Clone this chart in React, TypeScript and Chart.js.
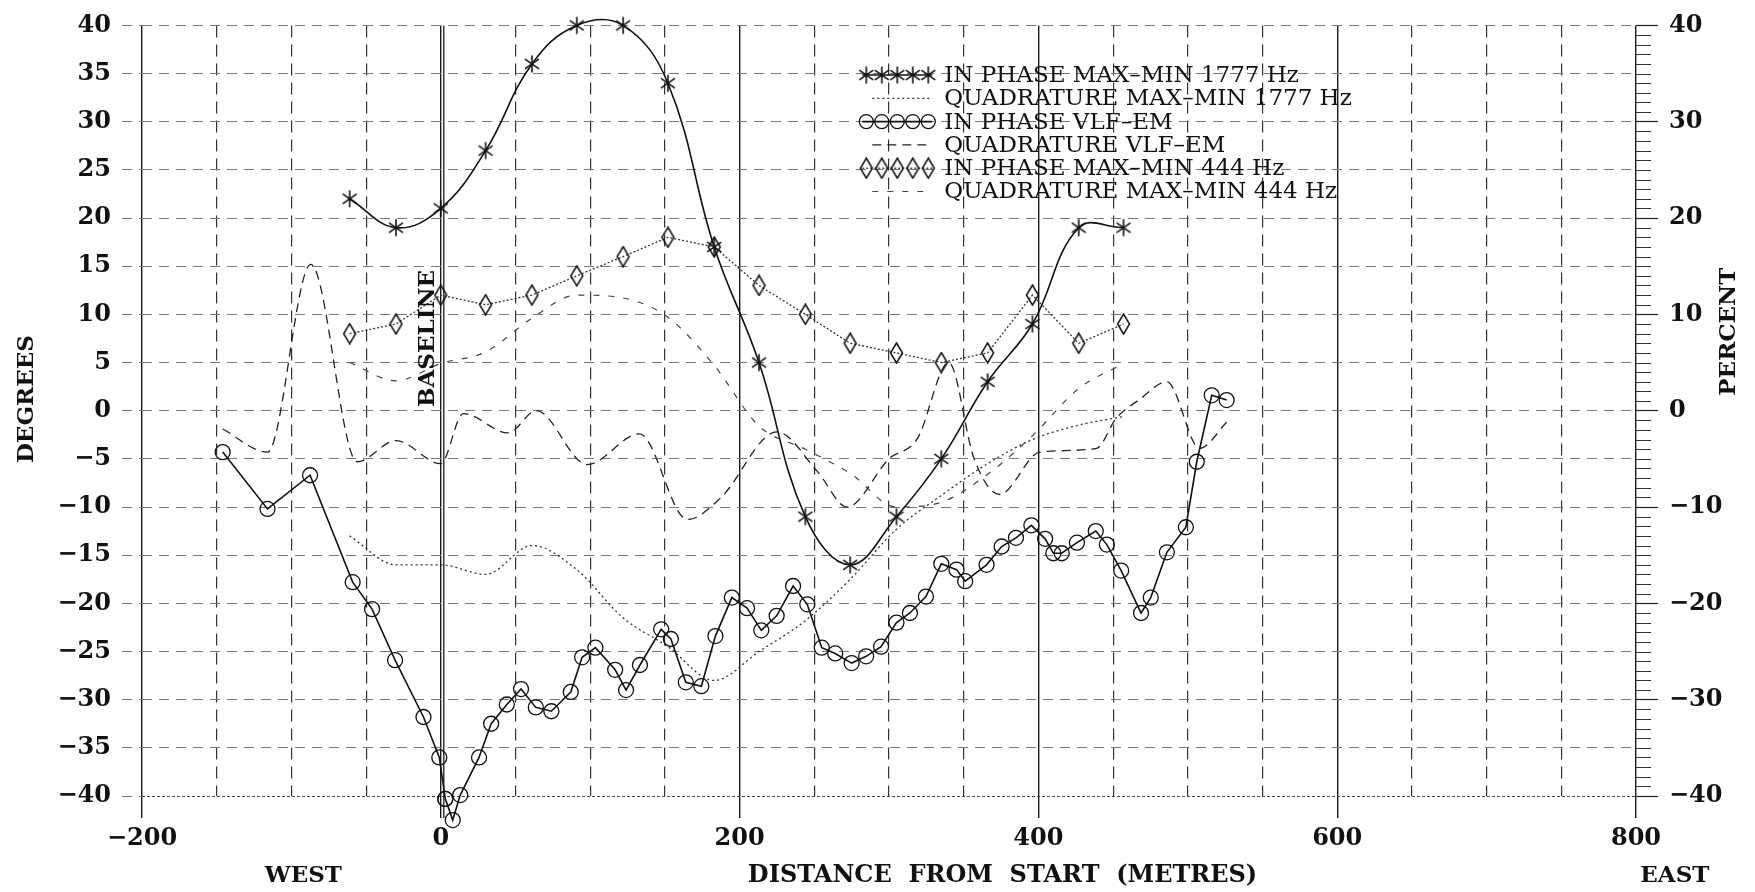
import React, { useEffect, useRef } from 'react';
import { Chart, registerables } from 'chart.js';

Chart.register(...registerables);

const FONT = "'DejaVu Serif', 'Liberation Serif', serif";

// Stations (metres) of the MAX-MIN survey
const stationX = [-61, -30, 0, 30, 61, 91, 122, 152, 183, 213, 244, 274, 305, 335, 366, 396, 427, 457];
const inPhase1777 = [22, 19, 21, 27, 36, 40, 40, 34, 17, 5, -11, -16, -11, -5, 3, 9, 19, 19];
const quad1777 = [-13, -16, -16, -17, -14, -16.5, -21.5, -24.5, -28, -25, -21.8, -17.5, -12.3, -8.8, -5.5, -3, -1.5, -0.6];
const inPhase444 = [8, 9, 12, 11, 12, 14, 16, 18, 17, 13, 10, 7, 6, 5, 6, 12, 7, 9];
const quad444 = [5, 3.1, 4.9, 6.1, 9.6, 12, 11.7, 9.7, 4.7, -1.6, -4, -6.5, -10, -9.5, -6.6, -2.6, 2.3, 4.9];

// VLF-EM stations
const vlfX = [-146, -116, -87.5, -59, -46, -30.6, -11.6, -1, 3, 8, 13, 25.6, 33.7, 44.2, 53.7, 63.6, 74, 87, 94.6, 103.5,
  116.7, 124, 133.3, 147.5, 154, 164, 174.4, 183.8, 194.8, 205, 214.5, 224.8, 235.8, 245.3, 255, 264, 275, 284.7, 294.7,
  305, 314, 324.7, 335, 345.2, 351, 365.3, 375.4, 385, 395.3, 404.5, 410, 415.6, 425.8, 438.4, 445.8, 455.4, 468.7, 475.2,
  486, 498.7, 506, 516, 526];
const inPhaseVLF = [-4.3, -10.2, -6.7, -17.8, -20.6, -25.9, -31.8, -36, -40.3, -42.5, -39.9, -36, -32.5, -30.5, -28.9, -30.8,
  -31.2, -29.2, -25.6, -24.6, -26.9, -29, -26.4, -22.7, -23.7, -28.2, -28.6, -23.4, -19.4, -20.5, -22.8, -21.3, -18.2, -20.1,
  -24.6, -25.2, -26.2, -25.5, -24.5, -22, -21, -19.3, -15.9, -16.5, -17.7, -16, -14.1, -13.2, -11.9, -13.3, -14.8, -14.8,
  -13.7, -12.5, -13.9, -16.6, -21, -19.4, -14.7, -12.1, -5.3, 1.6, 1.1];
const quadVLFX = [-146, -116, -87, -56, -30, 0, 15, 45, 64, 98, 133, 165, 187, 225, 252, 272, 300, 319, 340, 357, 374, 401,
  439, 452, 468, 486, 508, 526];
const quadVLF = [-1.9, -4.3, 15.2, -5.3, -3.1, -5.5, -0.3, -2.3, 0, -5.6, -2.4, -11.3, -9.1, -2.2, -6.3, -10, -5, -2.9, 5,
  -5, -8.7, -4.3, -3.9, -0.8, 1.2, 3, -3.9, -1.2];

const seriesLabels = [
  'IN PHASE MAX–MIN 1777 Hz',
  'QUADRATURE MAX–MIN 1777 Hz',
  'IN PHASE VLF–EM',
  'QUADRATURE VLF–EM',
  'IN PHASE MAX–MIN 444 Hz',
  'QUADRATURE MAX–MIN 444 Hz',
];

const xTitle = 'DISTANCE  FROM  START  (METRES)';
const yTitle = 'DEGREES';
const y2Title = 'PERCENT';
const westLabel = 'WEST';
const eastLabel = 'EAST';
const baselineLabel = 'BASELINE';

const fmt = (v: number) => (v < 0 ? '\u2212' + Math.abs(v) : String(v));
const pts = (xs: number[], ys: number[]) => xs.map((x, i) => ({ x, y: ys[i] }));

function makeStar(): HTMLCanvasElement {
  const c = document.createElement('canvas');
  c.width = 20; c.height = 20;
  const g = c.getContext('2d')!;
  g.strokeStyle = '#111'; g.lineWidth = 1.6;
  const cx = 10, cy = 10, r = 8.5;
  for (const a of [90, 35, 145]) {
    const rad = (a * Math.PI) / 180;
    g.beginPath();
    g.moveTo(cx - r * Math.cos(rad), cy - r * Math.sin(rad));
    g.lineTo(cx + r * Math.cos(rad), cy + r * Math.sin(rad));
    g.stroke();
  }
  return c;
}

function makeDiamond(): HTMLCanvasElement {
  const c = document.createElement('canvas');
  c.width = 15; c.height = 22;
  const g = c.getContext('2d')!;
  g.strokeStyle = '#111'; g.lineWidth = 1.5;
  g.beginPath();
  g.moveTo(7.5, 1); g.lineTo(13.5, 11); g.lineTo(7.5, 21); g.lineTo(1.5, 11); g.closePath();
  g.stroke();
  return c;
}

export default function App() {
  const ref = useRef<HTMLCanvasElement>(null);

  useEffect(() => {
    if (!ref.current) return;
    const star = makeStar();
    const diamond = makeDiamond();

    const decorPlugin = {
      id: 'decor',
      beforeDatasetsDraw(chart: any) {
        const { ctx, chartArea, scales } = chart;
        const x0 = scales.x.getPixelForValue(0);
        ctx.save();
        ctx.strokeStyle = '#1a1a1a';
        ctx.lineWidth = 1.3;
        ctx.beginPath();
        ctx.moveTo(x0 + 3, chartArea.top);
        ctx.lineTo(x0 + 3, chartArea.bottom + 22);
        ctx.stroke();
        // minor ticks on the right axis
        ctx.strokeStyle = '#333';
        ctx.lineWidth = 1;
        for (let v = -40; v <= 40; v += 1) {
          if (v % 10 === 0) continue;
          const y = Math.round(scales.y2.getPixelForValue(v)) + 0.5;
          ctx.beginPath();
          ctx.moveTo(chartArea.right, y);
          ctx.lineTo(chartArea.right + 15, y);
          ctx.stroke();
        }
        ctx.restore();
      },
      afterDatasetsDraw(chart: any) {
        // draw markers that lie just outside the plotting area (the library skips them)
        const { ctx, chartArea } = chart;
        const wide = { left: 0, top: 0, right: chart.width, bottom: chart.height };
        chart.data.datasets.forEach((_d: any, i: number) => {
          const meta = chart.getDatasetMeta(i);
          meta.data.forEach((el: any) => {
            if (el.y > chartArea.bottom || el.y < chartArea.top) el.draw(ctx, wide);
          });
        });
      },
      afterDraw(chart: any) {
        const { ctx, chartArea, scales } = chart;
        const xs = scales.x, ys = scales.y;
        ctx.save();
        ctx.fillStyle = '#111';
        ctx.textAlign = 'center';
        ctx.textBaseline = 'middle';
        ctx.font = `bold 23px ${FONT}`;
        // bottom titles
        const yb = chartArea.bottom + 80;
        ctx.fillText(westLabel, xs.getPixelForValue(-92), yb);
        ctx.fillText(eastLabel, xs.getPixelForValue(826), yb);
        ctx.font = `bold 24px ${FONT}`;
        ctx.fillText(xTitle, xs.getPixelForValue(376), yb);
        ctx.font = `bold 23px ${FONT}`;
        // rotated titles
        const rot = (t: string, x: number, y: number) => {
          ctx.save();
          ctx.translate(x, y);
          ctx.rotate(-Math.PI / 2);
          ctx.fillText(t, 0, 0);
          ctx.restore();
        };
        rot(yTitle, 27, ys.getPixelForValue(1.2));
        rot(y2Title, chartArea.right + 93, ys.getPixelForValue(8.2));
        rot(baselineLabel, xs.getPixelForValue(0) - 13, ys.getPixelForValue(7.5));

        // legend
        const ds = chart.data.datasets;
        const textX = xs.getPixelForValue(337);
        const symL = textX - 82;
        const symR = textX - 12;
        let rowY = ys.getPixelForValue(34.85);
        ctx.textAlign = 'left';
        ctx.font = `23px ${FONT}`;
        for (let i = 0; i < ds.length; i++) {
          const d = ds[i];
          ctx.save();
          ctx.strokeStyle = d.borderColor;
          ctx.lineWidth = d.borderWidth;
          ctx.setLineDash(d.borderDash || []);
          ctx.beginPath();
          const hasMarker = d.pointRadius > 0;
          ctx.moveTo(hasMarker ? symL : symL + 10, rowY);
          ctx.lineTo(symR, rowY);
          ctx.stroke();
          ctx.restore();
          if (hasMarker) {
            for (let k = 0; k < 5; k++) {
              const px = symL + 4 + k * 15.5;
              if (d.pointStyle === 'circle') {
                ctx.save();
                ctx.strokeStyle = '#111';
                ctx.lineWidth = 1.3;
                ctx.beginPath();
                ctx.arc(px, rowY, 7, 0, Math.PI * 2);
                ctx.stroke();
                ctx.restore();
              } else {
                const img = d.pointStyle as HTMLCanvasElement;
                ctx.drawImage(img, px - img.width / 2, rowY - img.height / 2);
              }
            }
          }
          ctx.fillStyle = '#111';
          ctx.fillText(d.label, textX, rowY + 1);
          rowY += 23.3;
        }
        ctx.restore();
      },
    };

    const chart = new Chart(ref.current, {
      type: 'scatter',
      data: {
        datasets: [
          {
            label: seriesLabels[0],
            data: pts(stationX, inPhase1777),
            showLine: true,
            borderColor: '#111',
            borderWidth: 1.6,
            tension: 0.4,
            capBezierPoints: false,
            pointStyle: star,
            pointRadius: 8,
            clip: false,
          } as any,
          {
            label: seriesLabels[1],
            data: pts(stationX, quad1777),
            showLine: true,
            borderColor: '#333',
            borderWidth: 1.3,
            borderDash: [2, 3],
            cubicInterpolationMode: 'monotone',
            pointRadius: 0,
            clip: false,
          },
          {
            label: seriesLabels[2],
            data: pts(vlfX, inPhaseVLF),
            showLine: true,
            borderColor: '#111',
            borderWidth: 1.6,
            tension: 0,
            pointStyle: 'circle',
            pointRadius: 7.5,
            pointBorderWidth: 1.3,
            pointBorderColor: '#111',
            pointBackgroundColor: 'rgba(0,0,0,0)',
            clip: false,
          },
          {
            label: seriesLabels[3],
            data: pts(quadVLFX, quadVLF),
            showLine: true,
            borderColor: '#222',
            borderWidth: 1.3,
            borderDash: [9, 6],
            cubicInterpolationMode: 'monotone',
            pointRadius: 0,
            clip: false,
          },
          {
            label: seriesLabels[4],
            data: pts(stationX, inPhase444),
            showLine: true,
            borderColor: '#333',
            borderWidth: 1.3,
            borderDash: [2, 2],
            tension: 0,
            pointStyle: diamond,
            pointRadius: 8,
            clip: false,
          } as any,
          {
            label: seriesLabels[5],
            data: pts(stationX, quad444),
            showLine: true,
            borderColor: '#444',
            borderWidth: 1.2,
            borderDash: [6, 9],
            cubicInterpolationMode: 'monotone',
            pointRadius: 0,
            clip: false,
          },
        ],
      },
      options: {
        responsive: false,
        animation: false,
        devicePixelRatio: 1,
        layout: { padding: { top: 22, left: 0, right: 0, bottom: 0 } },
        plugins: { legend: { display: false }, tooltip: { enabled: false } },
        scales: {
          x: {
            type: 'linear',
            min: -200,
            max: 800,
            ticks: {
              stepSize: 50,
              autoSkip: false,
              maxRotation: 0,
              padding: 6,
              color: '#111',
              font: { family: FONT, size: 24, weight: 'bold' },
              callback: (v: any) => (Number(v) % 200 === 0 ? fmt(Number(v)) : ''),
            },
            grid: {
              color: (c: any) => (c.tick && c.tick.value % 200 === 0 ? '#1a1a1a' : '#333'),
              lineWidth: (c: any) => (c.tick && c.tick.value % 200 === 0 ? 1.4 : 1.2),
              tickLength: 22,
              tickColor: (c: any) => (c.tick && c.tick.value % 200 === 0 ? '#1a1a1a' : 'rgba(0,0,0,0)'),
              tickWidth: 1.4,
            },
            border: {
              display: false,
              dash: (c: any) => (c.tick && c.tick.value % 200 !== 0 ? [12, 7] : []),
            },
            afterFit: (s: any) => { s.height = 96; },
          } as any,
          y: {
            type: 'linear',
            position: 'left',
            min: -40,
            max: 40,
            ticks: {
              stepSize: 5,
              autoSkip: false,
              padding: 11,
              color: '#111',
              font: { family: FONT, size: 24, weight: 'bold' },
              callback: (v: any) => fmt(Number(v)),
            },
            grid: {
              color: (c: any) => (c.tick && c.tick.value === -40 ? '#444' : '#777'),
              lineWidth: 1,
              tickLength: 20,
              tickColor: '#777',
              tickBorderDash: [10, 7],
            },
            border: { display: false, dash: (c: any) => (c.tick && c.tick.value === -40 ? [3, 2] : [10, 7]) },
            afterFit: (s: any) => { s.width = 142; },
          } as any,
          y2: {
            type: 'linear',
            position: 'right',
            min: -40,
            max: 40,
            ticks: {
              stepSize: 10,
              autoSkip: false,
              padding: 11,
              color: '#111',
              font: { family: FONT, size: 24, weight: 'bold' },
              callback: (v: any) => fmt(Number(v)),
            },
            grid: { drawOnChartArea: false, tickLength: 22, tickColor: '#222', tickWidth: 1.2 },
            border: { display: false },
            afterFit: (s: any) => { s.width = 119; },
          } as any,
        },
      },
      plugins: [decorPlugin],
    } as any);

    return () => chart.destroy();
  }, []);

  return (
    <div style={{ position: 'absolute', left: 0, top: 0, width: 1755, height: 892, background: '#fff' }}>
      <canvas ref={ref} width={1755} height={892} style={{ display: 'block', width: 1755, height: 892 }} />
    </div>
  );
}
